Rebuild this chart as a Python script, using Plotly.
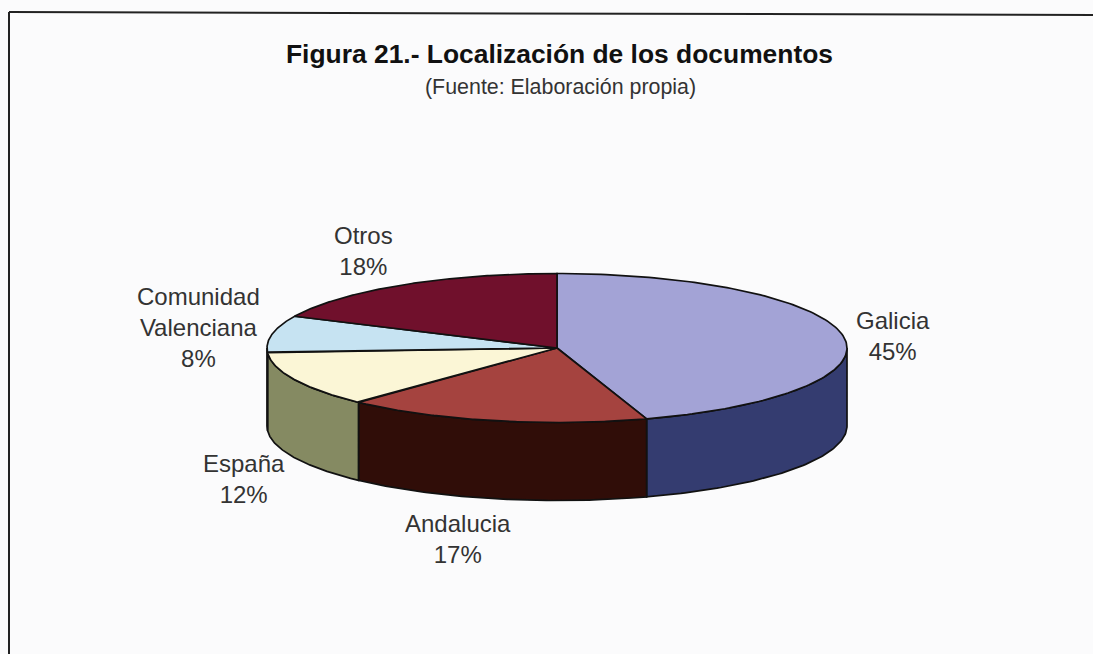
import numpy as np
import plotly.graph_objects as go

categories = ["Galicia", "Andalucia", "España", "Comunidad<br>Valenciana", "Otros"]
values = [45, 17, 12, 8, 18]
top_colors = ["#a3a3d6", "#a5433f", "#fbf6d6", "#c6e3f2", "#70102c"]
side_colors = ["#343c70", "#300d08", "#858a62", "#7f8a90", "#3a0818"]
label_x = [893, 458, 244, 198.5, 363]
label_y = [336, 539, 479, 327.5, 251]

CX, CY, RX, RY, DEPTH = 557, 348, 290, 74.5, 78
LINE = dict(color="#111111", width=1.7)

fig = go.Figure()

def point(theta, dz=0):
    return CX + RX * np.sin(theta), CY - RY * np.cos(theta) + dz

edges = np.concatenate([[0], np.cumsum(values)]) / sum(values) * 2 * np.pi

# side walls (only the front half, theta between 90 and 270 degrees)
for i in range(len(values)):
    a = max(edges[i], np.pi / 2)
    b = min(edges[i + 1], 3 * np.pi / 2)
    if b <= a:
        continue
    t = np.linspace(a, b, 80)
    x1, y1 = point(t)
    x2, y2 = point(t[::-1], DEPTH)
    fig.add_trace(go.Scatter(x=np.r_[x1, x2, x1[0]], y=np.r_[y1, y2, y1[0]], mode="lines",
                             fill="toself", fillcolor=side_colors[i], line=LINE, hoverinfo="skip"))

# top surface
for i in range(len(values)):
    t = np.linspace(edges[i], edges[i + 1], 150)
    x, y = point(t)
    fig.add_trace(go.Scatter(x=np.r_[CX, x, CX], y=np.r_[CY, y, CY], mode="lines",
                             fill="toself", fillcolor=top_colors[i], line=LINE, hoverinfo="skip"))

# labels
for name, v, lx, ly in zip(categories, values, label_x, label_y):
    fig.add_annotation(x=lx, y=ly, text=f"{name}<br>{v}%", showarrow=False,
                       font=dict(family="Liberation Sans", size=24, color="#333333"), align="center")

fig.add_annotation(x=559, y=54, text="<b>Figura 21.- Localización de los documentos</b>", showarrow=False,
                   font=dict(family="Liberation Sans", size=26.4, color="#111111"))
fig.add_annotation(x=560, y=86.5, text="(Fuente: Elaboración propia)", showarrow=False,
                   font=dict(family="Liberation Sans", size=21.4, color="#333333"))

fig.add_shape(type="line", x0=9, x1=9, y0=12, y1=654, line=dict(color="#222222", width=2))
fig.add_shape(type="line", x0=9, x1=1093, y0=12, y1=15, line=dict(color="#222222", width=2))

fig.update_layout(width=1093, height=654, margin=dict(l=0, r=0, t=0, b=0),
                  paper_bgcolor="#fbfbfc", plot_bgcolor="#fbfbfc", showlegend=False,
                  xaxis=dict(range=[0, 1093], visible=False, fixedrange=True),
                  yaxis=dict(range=[654, 0], visible=False, fixedrange=True))
fig.write_html("out.html", config=dict(displayModeBar=False),
               post_script="document.body.style.margin='0';document.body.style.background='#fbfbfc';document.body.style.overflow='hidden';")
